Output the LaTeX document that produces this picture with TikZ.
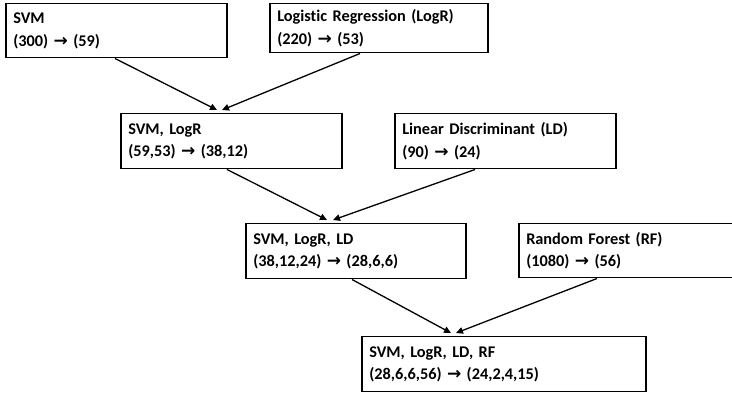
\documentclass[tikz,border=0pt]{standalone}
\usepackage{fontspec}
\setmainfont{Carlito}[Ligatures={NoCommon}, BoldFont={Carlito Bold}]
\newfontfamily\arrowfont{DejaVu Sans}[BoldFont={DejaVu Sans Bold}]
\newcommand{\toarrow}{{\arrowfont\fontsize{17}{22.5}\selectfont →}}
\usetikzlibrary{arrows.meta}
\tikzset{
  stagebox/.style={draw=black, line width=1.5pt, anchor=north west, align=left,
    font=\bfseries\fontsize{16.3}{22.5}\selectfont, inner xsep=7.5pt, inner ysep=0pt},
  flow/.style={line width=1.3pt, -{Triangle[length=7pt,width=6.5pt]}}
}
\newcommand{\boxat}[6]{% name, x1, y1, x2, y2, text
  \node[stagebox, minimum width=#4pt-#2pt, minimum height=#5pt-#3pt,
        text width=#4pt-#2pt-15pt] (#1) at (#2,#3) {#6};}
\begin{document}
\begin{tikzpicture}[x=1pt, y=-1pt]
  \useasboundingbox (0,0) rectangle (732,395);
  % first row of single classifiers
  \boxat{svm}{5}{3}{226}{57}{SVM\\(300) \toarrow{} (59)}
  \boxat{logr}{269}{3}{487}{52}{Logistic Regression (LogR)\\(220) \toarrow{} (53)}
  % second row
  \boxat{sl}{120}{113}{341}{168}{SVM, LogR\\(59,53) \toarrow{} (38,12)}
  \boxat{ld}{394}{113}{615}{168}{Linear Discriminant (LD)\\(90) \toarrow{} (24)}
  % third row
  \boxat{sll}{245}{223}{465}{278}{SVM, LogR, LD\\(38,12,24) \toarrow{} (28,6,6)}
  \boxat{rf}{518}{223}{734}{277}{Random Forest (RF)\\(1080) \toarrow{} (56)}
  % final ensemble
  \boxat{all}{361}{336}{645}{391}{SVM, LogR, LD, RF\\(28,6,6,56) \toarrow{} (24,2,4,15)}

  % merging arrows
  \draw[flow] ([xshift=110pt]svm.south west) -- ([xshift=97pt,yshift=3pt]sl.north west);
  \draw[flow] ([xshift=91pt]logr.south west) -- ([xshift=102pt,yshift=3pt]sl.north west);
  \draw[flow] ([xshift=107pt]sl.south west) -- ([xshift=82pt,yshift=3pt]sll.north west);
  \draw[flow] ([xshift=81pt]ld.south west) -- ([xshift=88pt,yshift=3pt]sll.north west);
  \draw[flow] ([xshift=107pt]sll.south west) -- ([xshift=90pt,yshift=3pt]all.north west);
  \draw[flow] ([xshift=79pt]rf.south west) -- ([xshift=95pt,yshift=3pt]all.north west);
\end{tikzpicture}
\end{document}
